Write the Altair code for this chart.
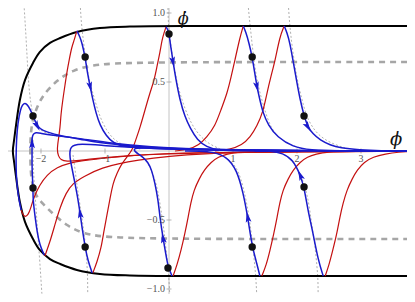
import altair as alt
import pandas as pd

# ---------------- data (phase-plane coordinates: phi, phi_dot) ----------------
boundary_x = [3.72, 2.05, 0.48, -0.61, -1.08, -1.44, -1.70, -1.86, -2.02, -2.125, -2.25, -2.33, -2.39, -2.42, -2.44,
              -2.42, -2.39, -2.33, -2.25, -2.125, -2.02, -1.86, -1.70, -1.44, -1.08, -0.61, 0.48, 2.05, 3.72]
boundary_y = [0.906, 0.906, 0.906, 0.902, 0.891, 0.862, 0.819, 0.783, 0.717, 0.638, 0.514, 0.370, 0.188, 0.080, 0.0,
              -0.080, -0.188, -0.370, -0.514, -0.638, -0.717, -0.783, -0.819, -0.862, -0.891, -0.902, -0.906, -0.906, -0.906]

guide_x = [3.72, 0.48, -0.81, -1.19, -1.50, -1.75, -1.97, -2.06, -2.125, -2.16, -2.17,
           -2.16, -2.14, -2.09, -1.97, -1.81, -1.59, -1.34, -0.92, 0.48, 3.72]
guide_y = [0.645, 0.645, 0.638, 0.623, 0.587, 0.514, 0.406, 0.319, 0.239, 0.138, 0.0,
           -0.152, -0.232, -0.319, -0.384, -0.457, -0.543, -0.601, -0.63, -0.638, -0.638]

# blue (forward) trajectories
blue_loop_x = [-2.31, -2.36, -2.39, -2.39, -2.375, -2.34, -2.31, -2.27, -2.22, -2.17, -2.125, -2.08, -2.02, -1.91, -1.70, -1.39, -1.08, -0.61, 0.02, 1.27, 3.72]
blue_loop_y = [-0.428, -0.319, -0.174, -0.007, 0.152, 0.261, 0.319, 0.348, 0.341, 0.304, 0.254, 0.203, 0.159, 0.138, 0.109, 0.087, 0.058, 0.036, 0.018, 0.004, 0.0]
blue_a_x = [-1.44, -1.39, -1.36, -1.31, -1.27, -1.23, -1.19, -1.14, -1.08, -0.98, -0.875, -0.69, -0.30, 0.48, 2.05, 3.72]
blue_a_y = [0.870, 0.826, 0.783, 0.681, 0.551, 0.464, 0.370, 0.275, 0.188, 0.109, 0.058, 0.029, 0.018, 0.007, 0.0, 0.0]
blue_b_x = [-0.047, -0.016, 0.0, 0.031, 0.063, 0.11, 0.17, 0.25, 0.33, 0.44, 0.59, 0.75, 1.11, 2.05]
blue_b_y = [0.899, 0.877, 0.848, 0.746, 0.645, 0.514, 0.370, 0.246, 0.167, 0.080, 0.029, 0.007, 0.0, 0.0]
blue_c_x = [1.16, 1.20, 1.25, 1.30, 1.34, 1.375, 1.42, 1.47, 1.55, 1.69, 1.94, 2.20, 2.67, 3.72]
blue_c_y = [0.906, 0.862, 0.783, 0.681, 0.565, 0.464, 0.370, 0.275, 0.188, 0.101, 0.029, 0.007, 0.0, 0.0]
blue_d_x = [1.80, 1.84, 1.89, 1.95, 2.0, 2.05, 2.11, 2.17, 2.25, 2.36, 2.52, 2.67, 2.98, 3.30, 3.72]
blue_d_y = [0.906, 0.862, 0.783, 0.623, 0.493, 0.370, 0.254, 0.174, 0.123, 0.080, 0.043, 0.022, 0.007, 0.0, 0.0]
blue_e_x = [-1.95, -2.02, -2.06, -2.09, -2.125, -2.125, -2.14, -2.14, -2.14, -2.14, -2.125, -2.08, -2.02, -1.86, -1.39, -0.92, -0.30, 0.48, 2.05, 3.72]
blue_e_y = [-0.754, -0.681, -0.587, -0.486, -0.355, -0.268, -0.138, -0.029, 0.058, 0.094, 0.123, 0.134, 0.130, 0.116, 0.091, 0.058, 0.029, 0.011, 0.0, 0.0]
blue_f_x = [-1.20, -1.27, -1.31, -1.36, -1.39, -1.42, -1.47, -1.52, -1.55, -1.55, -1.53, -1.48, -1.39, -1.08, -0.61, 0.48, 2.05]
blue_f_y = [-0.884, -0.79, -0.696, -0.551, -0.449, -0.355, -0.232, -0.116, -0.043, 0.0, 0.029, 0.043, 0.051, 0.043, 0.025, 0.007, 0.0]
blue_g_x = [0.047, 0.016, -0.016, -0.047, -0.094, -0.14, -0.17, -0.22, -0.27, -0.33, -0.41, -0.48, -0.53, -0.55, -0.52, -0.375, 0.016, 1.27, 3.72]
blue_g_y = [-0.906, -0.870, -0.833, -0.754, -0.630, -0.486, -0.355, -0.232, -0.138, -0.080, -0.043, -0.022, -0.004, 0.011, 0.022, 0.025, 0.018, 0.004, 0.0]
blue_h_x = [1.42, 1.375, 1.30, 1.23, 1.16, 1.06, 0.91, 0.69, 0.48, 0.25]
blue_h_y = [-0.906, -0.819, -0.696, -0.478, -0.304, -0.138, -0.043, -0.007, 0.0, 0.0]
blue_i_x = [2.41, 2.33, 2.25, 2.17, 2.11, 2.05, 1.94, 1.78, 1.58, 1.34]
blue_i_y = [-0.906, -0.79, -0.594, -0.428, -0.261, -0.174, -0.065, -0.0145, 0.0, 0.0]

# red (backward) trajectories
red_a_x = [-1.44, -1.48, -1.52, -1.56, -1.59, -1.625, -1.66, -1.69, -1.70, -1.73, -1.75, -1.73, -1.69, -1.61, -1.39, -1.23, -0.61, 0.016, 1.27, 3.72]
red_a_y = [0.870, 0.804, 0.754, 0.659, 0.587, 0.478, 0.370, 0.261, 0.174, 0.080, 0.007, -0.036, -0.065, -0.076, -0.069, -0.058, -0.033, -0.0145, -0.007, -0.002]
red_loop_x = [-2.31, -2.28, -2.25, -2.20, -2.16, -2.11, -2.02, -1.91, -1.75, -1.55, -1.39, -0.92, -0.30, 1.27, 3.72]
red_loop_y = [-0.428, -0.464, -0.478, -0.464, -0.413, -0.333, -0.246, -0.174, -0.116, -0.087, -0.072, -0.047, -0.022, -0.007, -0.002]
red_e_x = [-1.94, -1.86, -1.78, -1.70, -1.61, -1.50, -1.34, -1.08, -0.56, 0.48, 2.05, 3.72]
red_e_y = [-0.761, -0.659, -0.529, -0.406, -0.304, -0.232, -0.188, -0.123, -0.065, -0.0145, -0.004, -0.001]
red_b_x = [-0.047, -0.078, -0.11, -0.14, -0.19, -0.23, -0.30, -0.375, -0.45, -0.52, -0.5625, -0.61, -0.67, -0.75, -0.81, -0.875, -0.92, -0.97, -1.02, -1.06, -1.125, -1.19]
red_b_y = [0.899, 0.855, 0.804, 0.717, 0.609, 0.514, 0.420, 0.297, 0.174, 0.080, 0.022, -0.0145, -0.051, -0.101, -0.159, -0.232, -0.341, -0.464, -0.587, -0.703, -0.804, -0.884]
red_c_x = [1.16, 1.11, 1.03, 0.97, 0.91, 0.81, 0.72, 0.59, 0.47, 0.30, 0.094]
red_c_y = [0.906, 0.826, 0.659, 0.536, 0.420, 0.297, 0.181, 0.101, 0.043, 0.011, 0.0]
red_d_x = [1.80, 1.73, 1.66, 1.59, 1.53, 1.47, 1.375, 1.27, 1.14, 0.95, 0.72]
red_d_y = [0.906, 0.826, 0.659, 0.536, 0.420, 0.283, 0.181, 0.101, 0.043, 0.011, 0.0]
red_g_x = [0.063, 0.125, 0.19, 0.25, 0.30, 0.34, 0.39, 0.47, 0.55, 0.66, 0.77, 0.91, 1.08, 1.42, 2.52]
red_g_y = [-0.906, -0.826, -0.717, -0.594, -0.478, -0.377, -0.283, -0.203, -0.138, -0.080, -0.043, -0.022, -0.007, -0.004, 0.0]
red_h_x = [1.45, 1.52, 1.58, 1.64, 1.69, 1.73, 1.78, 1.86, 1.94, 2.05, 2.16, 2.30, 2.47, 2.83, 3.72]
red_h_y = [-0.906, -0.826, -0.717, -0.594, -0.478, -0.377, -0.283, -0.203, -0.138, -0.080, -0.043, -0.022, -0.007, -0.002, 0.0]
red_i_x = [2.44, 2.50, 2.56, 2.625, 2.67, 2.72, 2.78, 2.86, 2.94, 3.05, 3.19, 3.375, 3.61, 3.72]
red_i_y = [-0.906, -0.826, -0.717, -0.594, -0.478, -0.377, -0.283, -0.203, -0.138, -0.080, -0.043, -0.022, -0.007, -0.005]

# thin dotted reference curves
dot1t_x = [-2.27, -2.23, -2.20, -2.16, -2.11, -2.05, -1.94, -1.70]
dot1t_y = [1.09, 0.804, 0.514, 0.333, 0.225, 0.167, 0.130, 0.101]
dot1b_x = [-2.125, -2.125, -2.11, -2.08, -2.05, -2.02, -1.98]
dot1b_y = [0.08, -0.065, -0.21, -0.391, -0.609, -0.79, -1.08]
dot2t_x = [-1.39, -1.375, -1.34, -1.30, -1.25, -1.16, -1.08, -0.98, -0.86, -0.69, -0.45]
dot2t_y = [1.094, 0.949, 0.804, 0.659, 0.514, 0.370, 0.246, 0.152, 0.080, 0.036, 0.0145]
dot2b_x = [-1.27, -1.27, -1.28, -1.30, -1.34, -1.39, -1.44, -1.47, -1.50]
dot2b_y = [-1.08, -0.935, -0.826, -0.696, -0.551, -0.391, -0.246, -0.123, -0.029]
dot3t_x = [-0.016, -0.016, 0.016, 0.063, 0.125, 0.20, 0.30, 0.39, 0.50, 0.625, 0.80]
dot3t_y = [1.094, 0.949, 0.804, 0.659, 0.493, 0.370, 0.246, 0.167, 0.101, 0.051, 0.0145]
dot3b_x = [0.016, 0.0, -0.016, -0.047, -0.078, -0.125, -0.17, -0.23, -0.31, -0.39, -0.47]
dot3b_y = [-1.08, -0.935, -0.826, -0.717, -0.572, -0.428, -0.297, -0.188, -0.101, -0.051, -0.022]
dot4t_x = [1.23, 1.25, 1.27, 1.30, 1.34, 1.39, 1.45, 1.52, 1.59, 1.70, 1.86, 2.05]
dot4t_y = [1.094, 0.986, 0.899, 0.768, 0.609, 0.478, 0.370, 0.261, 0.174, 0.101, 0.051, 0.022]
dot4b_x = [1.375, 1.36, 1.34, 1.31, 1.27, 1.22, 1.16, 1.09, 1.0, 0.875]
dot4b_y = [-1.08, -0.935, -0.826, -0.696, -0.536, -0.391, -0.261, -0.152, -0.087, -0.043]
dot5t_x = [1.86, 1.875, 1.89, 1.92, 1.97, 2.02, 2.08, 2.14, 2.22, 2.33, 2.52, 2.75]
dot5t_y = [1.094, 0.986, 0.899, 0.768, 0.609, 0.478, 0.370, 0.261, 0.188, 0.116, 0.058, 0.022]
dot5b_x = [2.33, 2.33, 2.31, 2.28, 2.23, 2.19, 2.14, 2.08, 1.98, 1.86]
dot5b_y = [-1.08, -0.935, -0.826, -0.681, -0.536, -0.391, -0.283, -0.196, -0.101, -0.043]

# initial points (black dots)
point_x = [-2.125, -1.31, 0.0, 1.30, 2.11, -2.125, -1.31, -0.016, 1.30, 2.11]
point_y = [0.254, 0.681, 0.848, 0.681, 0.254, -0.268, -0.696, -0.848, -0.696, -0.261]

# arrowheads on blue curves (position and heading in degrees, clockwise from up)
arrow_x = [-2.06, -1.23, 0.063, 1.375, 2.17, -2.14, -1.39, -0.094, 1.23, 2.05]
arrow_y = [0.181, 0.464, 0.645, 0.464, 0.174, 0.058, -0.449, -0.63, -0.478, -0.174]
arrow_angle = [152, 167, 169, 167, 148, 0, 351, 350, 350, 337]

# axis ticks and labels
xtick_values = [-2, -1, 1, 2, 3]
xtick_labels = ["\u22122", "\u22121", "1", "2", "3"]
ytick_values = [1.0, 0.5, -0.5, -1.0]
ytick_labels = ["1.0", "0.5", "\u22120.5", "\u22121.0"]
axis_titles = ["\u03d5\u0307", "\u03d5"]
axis_title_x = [0.22, 3.55]
axis_title_y = [0.955, 0.08]
axis_title_size = [16, 18]

# ---------------- chart ----------------
X_DOMAIN = [-2.515625, 3.71875]
Y_DOMAIN = [-1.03623, 1.03623]
xs = alt.Scale(domain=X_DOMAIN, nice=False, zero=False)
ys = alt.Scale(domain=Y_DOMAIN, nice=False, zero=False)


def curves_df(curves):
    rows = []
    for name, (cx, cy) in curves.items():
        for i, (a, b) in enumerate(zip(cx, cy)):
            rows.append({"curve": name, "i": i, "x": a, "y": b})
    return pd.DataFrame(rows)


def line_layer(df, color, width, dash=None, interp="basis"):
    kw = dict(color=color, strokeWidth=width, interpolate=interp, clip=True)
    if dash:
        kw["strokeDash"] = dash
    return alt.Chart(df).mark_line(**kw).encode(
        x=alt.X("x:Q", scale=xs, axis=None),
        y=alt.Y("y:Q", scale=ys, axis=None),
        detail="curve:N",
        order="i:Q",
    )


dotted_df = curves_df({
    "d1t": (dot1t_x, dot1t_y), "d1b": (dot1b_x, dot1b_y),
    "d2t": (dot2t_x, dot2t_y), "d2b": (dot2b_x, dot2b_y),
    "d3t": (dot3t_x, dot3t_y), "d3b": (dot3b_x, dot3b_y),
    "d4t": (dot4t_x, dot4t_y), "d4b": (dot4b_x, dot4b_y),
    "d5t": (dot5t_x, dot5t_y), "d5b": (dot5b_x, dot5b_y),
})
guide_df = curves_df({"guide": (guide_x, guide_y)})
boundary_df = curves_df({"boundary": (boundary_x, boundary_y)})
red_df = curves_df({
    "ra": (red_a_x, red_a_y), "rloop": (red_loop_x, red_loop_y), "re": (red_e_x, red_e_y),
    "rb": (red_b_x, red_b_y), "rc": (red_c_x, red_c_y), "rd": (red_d_x, red_d_y),
    "rg": (red_g_x, red_g_y), "rh": (red_h_x, red_h_y), "ri": (red_i_x, red_i_y),
})
blue_df = curves_df({
    "bloop": (blue_loop_x, blue_loop_y), "ba": (blue_a_x, blue_a_y), "bb": (blue_b_x, blue_b_y),
    "bc": (blue_c_x, blue_c_y), "bd": (blue_d_x, blue_d_y), "be": (blue_e_x, blue_e_y),
    "bf": (blue_f_x, blue_f_y), "bg": (blue_g_x, blue_g_y), "bh": (blue_h_x, blue_h_y),
    "bi": (blue_i_x, blue_i_y),
})

axes_v = alt.Chart(pd.DataFrame({"x": [0.0]})).mark_rule(color="#c4c4c4", strokeWidth=1).encode(
    x=alt.X("x:Q", scale=xs, axis=None))
axes_h = alt.Chart(pd.DataFrame({"y": [0.0]})).mark_rule(color="#c4c4c4", strokeWidth=1).encode(
    y=alt.Y("y:Q", scale=ys, axis=None))

xt_df = pd.DataFrame({"x": xtick_values, "y": [0.0] * len(xtick_values), "label": xtick_labels})
yt_df = pd.DataFrame({"x": [0.0] * len(ytick_values), "y": ytick_values, "label": ytick_labels})

xticks = alt.Chart(xt_df).mark_tick(orient="vertical", size=5, thickness=1, color="#999").encode(
    x=alt.X("x:Q", scale=xs, axis=None), y=alt.Y("y:Q", scale=ys, axis=None))
yticks = alt.Chart(yt_df).mark_tick(orient="horizontal", size=5, thickness=1, color="#999").encode(
    x=alt.X("x:Q", scale=xs, axis=None), y=alt.Y("y:Q", scale=ys, axis=None))
xlabels = alt.Chart(xt_df).mark_text(font="Liberation Serif", fontSize=10, color="#555",
                                     baseline="top", dy=3, align="center").encode(
    x=alt.X("x:Q", scale=xs, axis=None), y=alt.Y("y:Q", scale=ys, axis=None), text="label:N")
ylabels = alt.Chart(yt_df).mark_text(font="Liberation Serif", fontSize=10, color="#555",
                                     baseline="middle", dx=-4, align="right").encode(
    x=alt.X("x:Q", scale=xs, axis=None), y=alt.Y("y:Q", scale=ys, axis=None), text="label:N")

titles = alt.Chart(pd.DataFrame({"x": axis_title_x, "y": axis_title_y, "t": axis_titles,
                                 "s": axis_title_size})).mark_text(
    font="DejaVu Serif", fontStyle="italic", color="#111", baseline="middle", align="center").encode(
    x=alt.X("x:Q", scale=xs, axis=None), y=alt.Y("y:Q", scale=ys, axis=None), text="t:N",
    size=alt.Size("s:Q", scale=None))

dots = alt.Chart(pd.DataFrame({"x": point_x, "y": point_y})).mark_point(
    shape="circle", filled=True, size=55, color="#111", opacity=1).encode(
    x=alt.X("x:Q", scale=xs, axis=None), y=alt.Y("y:Q", scale=ys, axis=None))

arrows = alt.Chart(pd.DataFrame({"x": arrow_x, "y": arrow_y, "a": arrow_angle})).mark_point(
    shape="M0,-1L0.55,1L0,0.6L-0.55,1Z", filled=True, size=110, color="#1a1acc", opacity=1).encode(
    x=alt.X("x:Q", scale=xs, axis=None), y=alt.Y("y:Q", scale=ys, axis=None),
    angle=alt.Angle("a:Q", scale=None))

chart = alt.layer(
    axes_v, axes_h, xticks, yticks,
    line_layer(dotted_df, "#9a9a9a", 0.8, [2, 2]),
    line_layer(guide_df, "#a6a6a6", 2.6, [6, 5]),
    line_layer(boundary_df, "#000000", 2.0, interp="catmull-rom"),
    line_layer(red_df, "#c41010", 1.2),
    line_layer(blue_df, "#1a1acc", 1.5),
    xlabels, ylabels, titles, dots, arrows,
).properties(
    width=399, height=286,
    autosize=alt.AutoSizeParams(type="none"), padding=0,
).configure_view(stroke=None)

chart.save("out.html", embed_options={"renderer": "svg", "actions": False})
